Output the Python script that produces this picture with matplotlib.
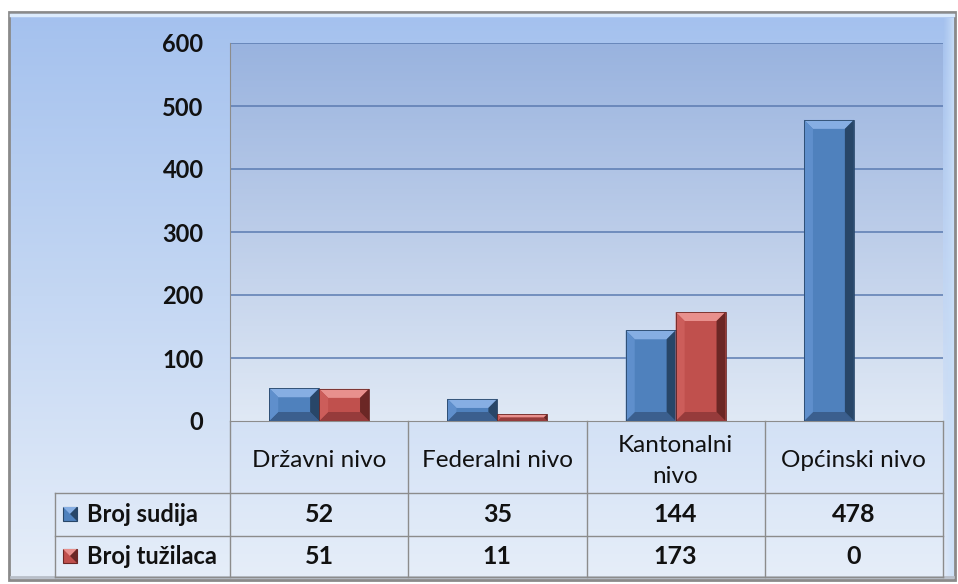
import numpy as np
import matplotlib
matplotlib.use('Agg')
import matplotlib.pyplot as plt
from matplotlib.colors import LinearSegmentedColormap
from matplotlib.patches import Rectangle, Polygon

plt.rcParams['font.family'] = ['Lato', 'DejaVu Sans']

# data
categories = ['Državni nivo', 'Federalni nivo', 'Kantonalni\nnivo', 'Općinski nivo']
series_names = ['Broj sudija', 'Broj tužilaca']
broj_sudija = [52, 35, 144, 478]
broj_tuzilaca = [51, 11, 173, 0]
yticks = [0, 100, 200, 300, 400, 500, 600]

blue = '#4f81bd'
red = '#c0504d'
bevel_cols = {
    blue: dict(top='#86aee3', left='#5f8fcc', right='#284668', bottom='#3b5f8e'),
    red: dict(top='#e8908d', left='#cc5d5a', right='#6b2725', bottom='#963b3b'),
}

W, H = 958, 584
fig = plt.figure(figsize=(W / 100, H / 100), dpi=100)
fig.patch.set_facecolor('white')

# background / chart area
bg = fig.add_axes([0, 0, 1, 1])
bg.set_xlim(0, W)
bg.set_ylim(H, 0)
bg.axis('off')
grad = np.linspace(0, 1, 256).reshape(-1, 1)
outer_cm = LinearSegmentedColormap.from_list('outer', ['#a4c1ee', '#c4d7f3', '#e6eef9'])
bg.imshow(grad, extent=(9, 955, 580, 12), cmap=outer_cm, aspect='auto', zorder=0)
side = np.linspace(0, 1, 64).reshape(1, -1)
side_cm = LinearSegmentedColormap.from_list('side', [(0.75, 0.84, 0.96, 0.0), (0.80, 0.88, 0.98, 0.9)])
bg.imshow(side, extent=(943, 954, 578, 18), cmap=side_cm, aspect='auto', zorder=1)
bg.add_patch(Rectangle((9, 12), 946, 568, fill=False, ec='#8a8a8a', lw=2, zorder=2))
bg.plot([11, 953], [15, 15], color='#dcebfc', lw=2.5, zorder=2)
bg.plot([11, 953], [577, 577], color='#b8bec8', lw=2, zorder=2)

# plot area
ax = fig.add_axes([230 / W, (H - 421) / H, 713 / W, 378 / H])
ax.set_autoscale_on(False)
inner_cm = LinearSegmentedColormap.from_list('inner', ['#99b3df', '#bccde9', '#e0e9f5'])
ax.imshow(grad, extent=(0, 1, 0, 1), transform=ax.transAxes, cmap=inner_cm,
          aspect='auto', zorder=0)
ax.set_xlim(-0.5, len(categories) - 0.5)
ax.set_ylim(0, 600)
ax.patch.set_alpha(0)

for yv in yticks[1:]:
    ax.axhline(yv, color='#5b7bb1', lw=1.1, zorder=1)

x = np.arange(len(categories))
bw = 0.28
b1 = ax.bar(x - bw / 2, broj_sudija, bw, color=blue, zorder=3)
b2 = ax.bar(x + bw / 2, broj_tuzilaca, bw, color=red, zorder=3)

# bevel effect on the bars
p = ax.transData.transform([[0, 0], [1, 1]])
ux, uy = p[1, 0] - p[0, 0], p[1, 1] - p[0, 1]


def bevel(patch, cols, size=9):
    x0, y0 = patch.get_x(), patch.get_y()
    w, h = patch.get_width(), patch.get_height()
    if h <= 0:
        return
    b = min(size, w * ux / 2, h * uy / 2)
    bx, by = b / ux, b / uy
    x1, y1 = x0 + w, y0 + h
    polys = {
        'top': [(x0, y1), (x1, y1), (x1 - bx, y1 - by), (x0 + bx, y1 - by)],
        'bottom': [(x0, y0), (x1, y0), (x1 - bx, y0 + by), (x0 + bx, y0 + by)],
        'left': [(x0, y0), (x0 + bx, y0 + by), (x0 + bx, y1 - by), (x0, y1)],
        'right': [(x1, y0), (x1 - bx, y0 + by), (x1 - bx, y1 - by), (x1, y1)],
    }
    for k, pts in polys.items():
        ax.add_patch(Polygon(pts, closed=True, fc=cols[k], ec='none', zorder=4))
    ax.add_patch(Rectangle((x0, y0), w, h, fill=False, ec=cols['right'], lw=0.6, zorder=5))


for bars, c in ((b1, blue), (b2, red)):
    for patch in bars:
        bevel(patch, bevel_cols[c])

# axes styling
ax.set_xticks([])
ax.set_yticks(yticks)
ax.set_yticklabels([str(v) for v in yticks], fontsize=17, fontweight='bold', color='#111111')
ax.tick_params(axis='y', length=0, pad=19)
for s in ('top', 'right'):
    ax.spines[s].set_visible(False)
ax.spines['left'].set_color('#8c8c8c')
ax.spines['bottom'].set_color('#8c8c8c')

# data table
tr = ax.get_xaxis_transform()
lc = '#8c8c8c'
rows = [0, -72 / 378, -115 / 378, -156 / 378]
xl = -0.5 - 175 / ux
xr = len(categories) - 0.5
for yr in rows[1:]:
    ax.plot([xl, xr], [yr, yr], color=lc, lw=1, transform=tr, clip_on=False)
for xv in np.arange(-0.5, len(categories), 1.0):
    ax.plot([xv, xv], [0, rows[-1]], color=lc, lw=1, transform=tr, clip_on=False)
ax.plot([xl, xl], [rows[1], rows[-1]], color=lc, lw=1, transform=tr, clip_on=False)

yc = [(rows[i] + rows[i + 1]) / 2 for i in range(3)]
line_step = 31 / 378
for i, cat in enumerate(categories):
    lines = cat.split('\n')
    n = len(lines)
    for k, line in enumerate(lines):
        yy = yc[0] - 0.01 - (k - (n - 1) / 2) * line_step
        ax.text(i, yy, line, transform=tr, ha='center', va='center', fontsize=17.5,
                color='#111111', clip_on=False)
    ax.text(i, yc[1], str(broj_sudija[i]), transform=tr, ha='center', va='center',
            fontsize=18, fontweight='bold', color='#111111', clip_on=False)
    ax.text(i, yc[2], str(broj_tuzilaca[i]), transform=tr, ha='center', va='center',
            fontsize=18, fontweight='bold', color='#111111', clip_on=False)

# series labels with legend keys
for j, (name, c) in enumerate(zip(series_names, (blue, red))):
    ax.text(-0.5 - 143 / ux, yc[j + 1], name, transform=tr, ha='left', va='center',
            fontsize=17, fontweight='bold', color='#111111', clip_on=False)
    cy = [514, 556][j]
    bg.add_patch(Rectangle((63, cy - 7), 14, 14, fc=c, ec=bevel_cols[c]['right'], lw=0.8, zorder=3))
    bg.add_patch(Polygon([(63, cy - 7), (77, cy - 7), (70, cy)], fc=bevel_cols[c]['top'], ec='none', zorder=4))
    bg.add_patch(Polygon([(77, cy - 7), (77, cy + 7), (70, cy)], fc=bevel_cols[c]['right'], ec='none', zorder=4))

fig.savefig('out.png', dpi=100, facecolor='white')
